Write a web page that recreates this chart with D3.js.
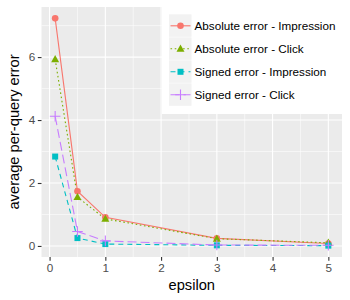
<!DOCTYPE html>
<html>
<head>
<meta charset="utf-8">
<script src="https://cdn.jsdelivr.net/npm/d3@7"></script>
<style>
  body { margin: 0; background: #fff; }
  svg { display: block; font-family: "Liberation Sans", Arial, sans-serif; }
</style>
</head>
<body>
<svg id="chart" width="350" height="300"></svg>
<script>
const epsilon = [0.1, 0.5, 1, 3, 5];
const absImpression = [7.23, 1.74, 0.91, 0.24, 0.08];
const absClick = [5.93, 1.55, 0.86, 0.23, 0.1];
const signedImpression = [2.84, 0.25, 0.06, 0.02, 0.01];
const signedClick = [4.12, 0.46, 0.16, 0.03, 0.02];
const xTicks = [0, 1, 2, 3, 4, 5];
const yTicks = [0, 2, 4, 6];

const series = [
  { name: "Absolute error - Impression", values: absImpression, color: "#F8766D", dash: null, shape: "circle" },
  { name: "Absolute error - Click", values: absClick, color: "#7CAE00", dash: "1.6,2.6", shape: "triangle" },
  { name: "Signed error - Impression", values: signedImpression, color: "#00BFC4", dash: "5,4", shape: "square" },
  { name: "Signed error - Click", values: signedClick, color: "#C77CFF", dash: "9,4", shape: "plus" },
];

const svg = d3.select("#chart");
const panel = { left: 41.5, right: 342, top: 7, bottom: 257 };

// ggplot style 5% expansion
const expand = (ext) => {
  const pad = (ext[1] - ext[0]) * 0.05;
  return [ext[0] - pad, ext[1] + pad];
};
const allY = series.flatMap((s) => s.values);

const x = d3.scaleLinear().domain(expand(d3.extent(epsilon))).range([panel.left, panel.right]);
const y = d3.scaleLinear().domain(expand(d3.extent(allY))).range([panel.bottom, panel.top]);

svg.append("rect")
  .attr("x", panel.left).attr("y", panel.top)
  .attr("width", panel.right - panel.left).attr("height", panel.bottom - panel.top)
  .attr("fill", "#ebebeb");

const grid = svg.append("g");
const xMinor = xTicks.slice(0, -1).map((d) => d + 0.5);
const yMinor = [1, 3, 5, 7];
grid.selectAll(".xminor").data(xMinor).join("line")
  .attr("x1", (d) => x(d)).attr("x2", (d) => x(d))
  .attr("y1", panel.top).attr("y2", panel.bottom)
  .attr("stroke", "#fff").attr("stroke-width", 0.55);
grid.selectAll(".yminor").data(yMinor).join("line")
  .attr("y1", (d) => y(d)).attr("y2", (d) => y(d))
  .attr("x1", panel.left).attr("x2", panel.right)
  .attr("stroke", "#fff").attr("stroke-width", 0.55);
grid.selectAll(".xmajor").data(xTicks).join("line")
  .attr("x1", (d) => x(d)).attr("x2", (d) => x(d))
  .attr("y1", panel.top).attr("y2", panel.bottom)
  .attr("stroke", "#fff").attr("stroke-width", 1.1);
grid.selectAll(".ymajor").data(yTicks).join("line")
  .attr("y1", (d) => y(d)).attr("y2", (d) => y(d))
  .attr("x1", panel.left).attr("x2", panel.right)
  .attr("stroke", "#fff").attr("stroke-width", 1.1);

// axes
const xAxis = d3.axisBottom(x).tickValues(xTicks).tickSize(3.7).tickPadding(2.5).tickFormat(d3.format("d"));
const yAxis = d3.axisLeft(y).tickValues(yTicks).tickSize(3.7).tickPadding(2.5).tickFormat(d3.format("d"));

const xAxisG = svg.append("g").attr("transform", `translate(0,${panel.bottom})`).call(xAxis);
const yAxisG = svg.append("g").attr("transform", `translate(${panel.left},0)`).call(yAxis);
[xAxisG, yAxisG].forEach((g) => {
  g.select(".domain").remove();
  g.selectAll(".tick line").attr("stroke", "#333").attr("stroke-width", 1.1);
  g.selectAll(".tick text").attr("fill", "#4d4d4d").attr("font-size", 11.7)
    .attr("font-family", "Liberation Sans, Arial, sans-serif");
});

svg.append("text").text("epsilon")
  .attr("x", (panel.left + panel.right) / 2).attr("y", 290)
  .attr("text-anchor", "middle").attr("font-size", 14.7).attr("fill", "#000");
svg.append("text").text("average per-query error")
  .attr("transform", `translate(19,${(panel.top + panel.bottom) / 2}) rotate(-90)`)
  .attr("text-anchor", "middle").attr("font-size", 14.7).attr("fill", "#000");

// marks
const drawShape = (g, shape, color, cx, cy) => {
  if (shape === "circle") {
    g.append("circle").attr("cx", cx).attr("cy", cy).attr("r", 3.3).attr("fill", color);
  } else if (shape === "triangle") {
    const s = 4.2;
    g.append("path")
      .attr("d", `M${cx},${cy - s}L${cx + s * 0.95},${cy + s * 0.7}L${cx - s * 0.95},${cy + s * 0.7}Z`)
      .attr("fill", color);
  } else if (shape === "square") {
    g.append("rect").attr("x", cx - 3).attr("y", cy - 3).attr("width", 6).attr("height", 6).attr("fill", color);
  } else {
    g.append("path")
      .attr("d", `M${cx - 5.3},${cy}H${cx + 5.3}M${cx},${cy - 5.3}V${cy + 5.3}`)
      .attr("stroke", color).attr("stroke-width", 1.1).attr("fill", "none");
  }
};

const lineGen = d3.line().x((d) => x(d[0])).y((d) => y(d[1]));
const marks = svg.append("g");
series.forEach((s) => {
  marks.append("path")
    .attr("d", lineGen(epsilon.map((e, i) => [e, s.values[i]])))
    .attr("fill", "none").attr("stroke", s.color).attr("stroke-width", 1.1)
    .attr("stroke-dasharray", s.dash);
});
series.forEach((s) => {
  epsilon.forEach((e, i) => drawShape(marks, s.shape, s.color, x(e), y(s.values[i])));
});

// legend
const legend = svg.append("g");
legend.append("rect").attr("x", 162).attr("y", 7).attr("width", 190).attr("height", 107).attr("fill", "#fff");
const keyX = 169, keyY = 14.3, keySize = 23;
series.forEach((s, i) => {
  const ky = keyY + i * keySize;
  legend.append("rect").attr("x", keyX).attr("y", ky).attr("width", keySize - 0.5).attr("height", keySize - 0.5)
    .attr("fill", "#f2f2f2");
  legend.append("line")
    .attr("x1", keyX + 1.5).attr("x2", keyX + keySize - 1.5)
    .attr("y1", ky + keySize / 2).attr("y2", ky + keySize / 2)
    .attr("stroke", s.color).attr("stroke-width", 1.1).attr("stroke-dasharray", s.dash);
  drawShape(legend, s.shape, s.color, keyX + keySize / 2, ky + keySize / 2);
  legend.append("text").text(s.name)
    .attr("x", 194.5).attr("y", ky + keySize / 2).attr("dy", "0.35em")
    .attr("font-size", 11.7).attr("fill", "#000");
});
</script>
</body>
</html>
